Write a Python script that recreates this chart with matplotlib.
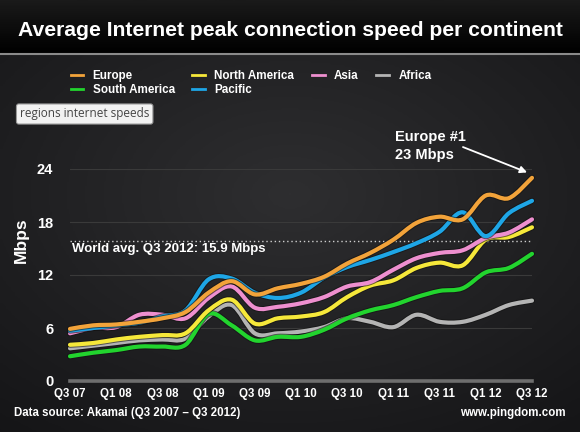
import numpy as np
import matplotlib
matplotlib.use('Agg')
import matplotlib.pyplot as plt
from matplotlib.path import Path
from matplotlib.patches import PathPatch
from matplotlib.lines import Line2D
import matplotlib.patheffects as pe

plt.rcParams['font.family'] = ['Liberation Sans', 'DejaVu Sans']

quarters = ['Q3 07', 'Q4 07', 'Q1 08', 'Q2 08', 'Q3 08', 'Q4 08', 'Q1 09', 'Q2 09',
            'Q3 09', 'Q4 09', 'Q1 10', 'Q2 10', 'Q3 10', 'Q4 10', 'Q1 11', 'Q2 11',
            'Q3 11', 'Q4 11', 'Q1 12', 'Q2 12', 'Q3 12']
tick_labels = quarters[::2]

europe = [5.9, 6.3, 6.4, 6.7, 7.1, 7.8, 10.0, 11.3, 9.8, 10.5, 11.0, 11.8, 13.3, 14.5,
          16.0, 17.9, 18.6, 18.3, 21.0, 20.7, 23.0]
pacific = [5.7, 6.0, 6.3, 6.6, 7.3, 8.0, 11.5, 11.6, 10.0, 9.4, 10.0, 11.7, 12.9, 13.7,
           14.6, 15.6, 16.9, 19.1, 16.4, 19.0, 20.4]
asia = [5.4, 6.0, 6.1, 7.5, 7.5, 7.1, 9.4, 10.7, 8.3, 8.4, 8.8, 9.5, 10.7, 11.2,
        12.6, 13.9, 14.5, 14.8, 16.2, 16.8, 18.3]
north_america = [4.1, 4.3, 4.7, 5.0, 5.2, 5.4, 8.0, 9.2, 6.5, 7.1, 7.3, 7.8, 9.5, 10.8,
                 11.4, 12.8, 13.4, 13.1, 16.0, 16.3, 17.4]
africa = [3.7, 4.0, 4.3, 4.6, 4.7, 4.8, 7.3, 8.6, 5.4, 5.4, 5.6, 6.1, 7.1, 6.7,
          6.1, 7.5, 6.7, 6.7, 7.5, 8.6, 9.1]
south_america = [2.8, 3.2, 3.5, 3.9, 3.9, 4.1, 7.6, 6.3, 4.6, 5.0, 5.0, 5.8, 7.1, 8.0,
                 8.6, 9.5, 10.2, 10.5, 12.3, 12.8, 14.4]

series = [
    ('Europe', europe, '#f2a33a'),
    ('South America', south_america, '#22d42e'),
    ('North America', north_america, '#f6e83a'),
    ('Pacific', pacific, '#1ea6e6'),
    ('Asia', asia, '#ee8fcf'),
    ('Africa', africa, '#b4b4b4'),
]
draw_order = ['Africa', 'South America', 'North America', 'Asia', 'Pacific', 'Europe']

world_avg = 15.9


def smooth_path(x, y, k=1/6):
    # catmull-rom style bezier through the data points
    x = np.asarray(x, float)
    y = np.asarray(y, float)
    verts = [(x[0], y[0])]
    codes = [Path.MOVETO]
    n = len(x)
    for i in range(n - 1):
        i0 = max(i - 1, 0)
        i3 = min(i + 2, n - 1)
        c1 = (x[i] + (x[i + 1] - x[i0]) * k, y[i] + (y[i + 1] - y[i0]) * k)
        c2 = (x[i + 1] - (x[i3] - x[i]) * k, y[i + 1] - (y[i3] - y[i]) * k)
        verts += [c1, c2, (x[i + 1], y[i + 1])]
        codes += [Path.CURVE4] * 3
    return Path(verts, codes)


fig = plt.figure(figsize=(5.8, 4.32), dpi=100)
fig.patch.set_facecolor('#1e1e20')

# background: vignette + top band
bg = fig.add_axes([0, 0, 1, 1], zorder=-10)
yy, xx = np.mgrid[0:1:200j, 0:1:200j]
r = np.sqrt(((xx - 0.5) / 0.8) ** 2 + ((yy - 0.55) / 0.7) ** 2)
bg.imshow(np.clip(1 - r, 0, 1), cmap=matplotlib.colors.LinearSegmentedColormap.from_list(
    'bg', ['#151517', '#2e2e30']), extent=[0, 1, 0, 1], aspect='auto', origin='lower')
band = np.linspace(0, 1, 50).reshape(-1, 1)
bg.imshow(band, cmap=matplotlib.colors.LinearSegmentedColormap.from_list(
    'band', ['#000000', '#1a1a1a']), extent=[0, 1, 1 - 53 / 432, 1], aspect='auto', origin='lower')
bg.axhline(1 - 53.5 / 432, color='#8a8a8a', lw=1.5)
bg.set_xlim(0, 1)
bg.set_ylim(0, 1)
bg.axis('off')

ax = fig.add_axes([70 / 580, 1 - 381 / 432, 462 / 580, 212 / 432])
ax.set_facecolor('none')
x = np.arange(len(quarters))
ax.set_xlim(0, len(quarters) - 1)
ax.set_ylim(0, 24)

for v in [6, 12, 18, 24]:
    ax.axhline(v, color='#3a3a3a', lw=0.8, zorder=1)
ax.axhline(0, color='#6e6e6e', lw=2.6, zorder=2, clip_on=False)
ax.axhline(world_avg, color='#cfcfcf', lw=1.0, ls=(0, (1, 2)), zorder=2)
ax.text(0.1, world_avg - 0.25, 'World avg. Q3 2012: 15.9 Mbps', color='white',
        fontsize=9.5, fontweight='bold', va='top', ha='left', zorder=6)

colors = {name: c for name, _, c in series}
data = {name: d for name, d, _ in series}
for name in draw_order:
    patch = PathPatch(smooth_path(x, data[name]), fill=False, edgecolor=colors[name],
                      lw=3.0, capstyle='round', joinstyle='round', zorder=4, clip_on=False)
    patch.set_path_effects([pe.Stroke(linewidth=4.4, foreground='#111111', alpha=0.6), pe.Normal()])
    ax.add_patch(patch)

ax.set_xticks(x[::2])
ax.set_xticklabels(tick_labels)
ax.set_yticks([0, 6, 12, 18, 24])
ax.tick_params(length=0, colors='white')
for lab in ax.get_xticklabels():
    lab.set_fontweight('bold')
    lab.set_fontsize(8.3)
for lab in ax.get_yticklabels():
    lab.set_fontweight('bold')
    lab.set_fontsize(10.5)
ax.tick_params(axis='x', pad=5)
ax.tick_params(axis='y', pad=12)
for s in ax.spines.values():
    s.set_visible(False)
ax.set_ylabel('Mbps', color='white', fontsize=12.5, fontweight='bold')
ax.yaxis.set_label_coords(-0.09, 0.665)

ax.annotate('', xy=(x[-1] - 0.1, europe[-1] + 0.5), xytext=(x[-4] - 0.1, 26.6),
            arrowprops=dict(arrowstyle='-|>', color='white', lw=1.3, mutation_scale=10),
            annotation_clip=False)
fig.text(395 / 580, 1 - 137 / 432, 'Europe #1', color='white', fontsize=10.5,
         fontweight='bold', va='center', ha='left')
fig.text(395 / 580, 1 - 155 / 432, '23 Mbps', color='white', fontsize=10.5,
         fontweight='bold', va='center', ha='left')

fig.text(0.5, 1 - 30 / 432, 'Average Internet peak connection speed per continent',
         color='white', fontsize=15.2, fontweight='bold', ha='center', va='center')

handles = [Line2D([], [], color=c, lw=2.0) for _, _, c in series]
leg = fig.legend(handles, [n for n, _, _ in series], ncol=4, loc='upper left',
                 bbox_to_anchor=(60 / 580, 1 - 60 / 432), frameon=False,
                 handlelength=1.1, handletextpad=0.8, columnspacing=1.5,
                 labelspacing=0.15, prop={'weight': 'bold', 'size': 8.4})
for t in leg.get_texts():
    t.set_color('white')

fig.text(20 / 580, 1 - 114 / 432, 'regions internet speeds', color='#444444',
         fontsize=8.5, family=['Open Sans', 'DejaVu Sans'], ha='left', va='center',
         bbox=dict(boxstyle='round,pad=0.3,rounding_size=0.2', fc='#f2f2f2', ec='#999999', lw=0.8))

fig.text(14 / 580, 1 - 413 / 432, 'Data source: Akamai (Q3 2007 \u2013 Q3 2012)',
         color='white', fontsize=8.3, fontweight='bold', ha='left', va='center')
fig.text(566 / 580, 1 - 413 / 432, 'www.pingdom.com', color='white', fontsize=8.3,
         fontweight='bold', ha='right', va='center')

fig.savefig('out.png', dpi=100, facecolor=fig.get_facecolor())
